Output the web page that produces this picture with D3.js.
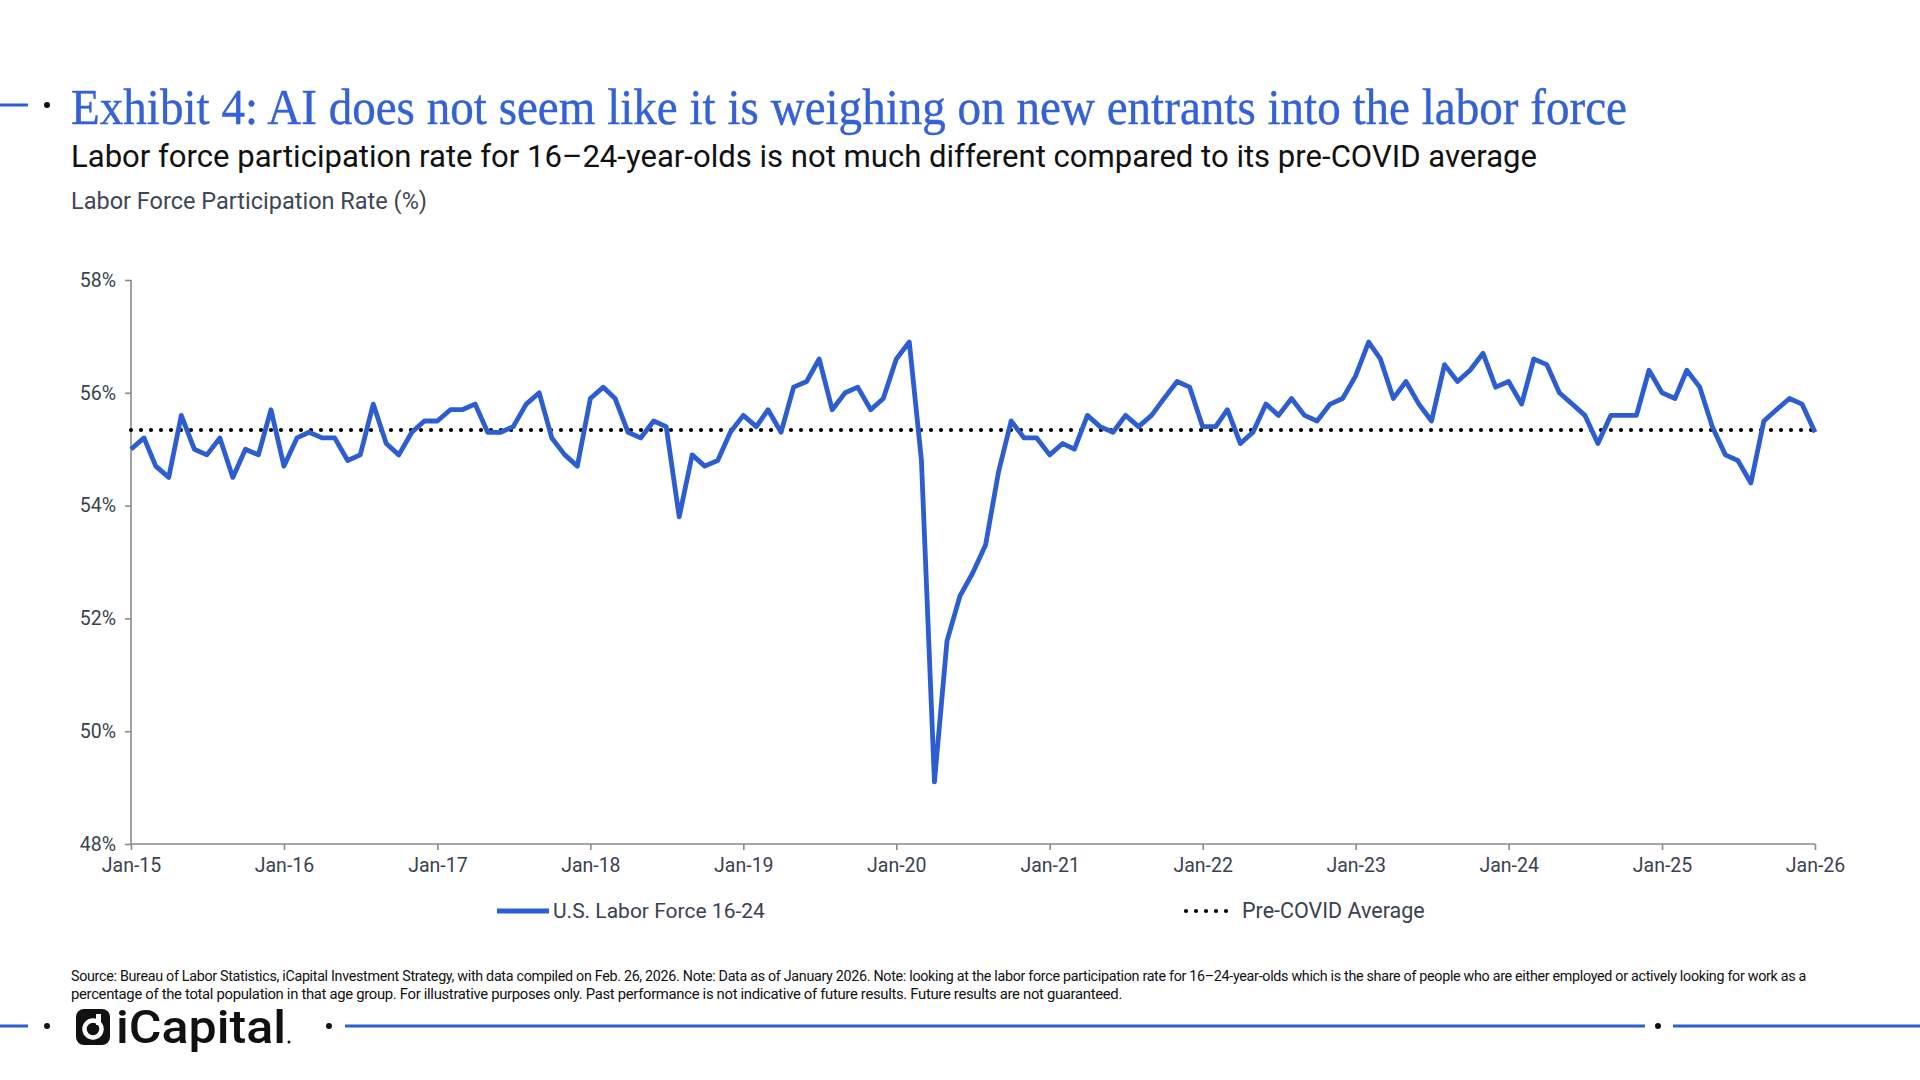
<!DOCTYPE html>
<html>
<head>
<meta charset="utf-8">
<script src="https://cdn.jsdelivr.net/npm/d3@7"></script>
<style>
  body { margin: 0; background: #fff; }
  svg { display: block; font-family: Roboto, "Open Sans", sans-serif; }
  .axis path, .axis line { stroke: #8a8a8a; stroke-width: 1.6; }
  .axis text { font-size: 19.5px; fill: #3a4250; font-family: Roboto, sans-serif; }
</style>
</head>
<body>
<svg width="1920" height="1080"></svg>
<script>
// monthly labor force participation rate, 16-24 (%), Jan-2015 .. Jan-2026
var lf2015 = [55.0, 55.2, 54.7, 54.5, 55.6, 55.0, 54.9, 55.2, 54.5, 55.0, 54.9, 55.7];
var lf2016 = [54.7, 55.2, 55.3, 55.2, 55.2, 54.8, 54.9, 55.8, 55.1, 54.9, 55.3, 55.5];
var lf2017 = [55.5, 55.7, 55.7, 55.8, 55.3, 55.3, 55.4, 55.8, 56.0, 55.2, 54.9, 54.7];
var lf2018 = [55.9, 56.1, 55.9, 55.3, 55.2, 55.5, 55.4, 53.8, 54.9, 54.7, 54.8, 55.3];
var lf2019 = [55.6, 55.4, 55.7, 55.3, 56.1, 56.2, 56.6, 55.7, 56.0, 56.1, 55.7, 55.9];
var lf2020 = [56.6, 56.9, 54.8, 49.1, 51.6, 52.4, 52.8, 53.3, 54.6, 55.5, 55.2, 55.2];
var lf2021 = [54.9, 55.1, 55.0, 55.6, 55.4, 55.3, 55.6, 55.4, 55.6, 55.9, 56.2, 56.1];
var lf2022 = [55.4, 55.4, 55.7, 55.1, 55.3, 55.8, 55.6, 55.9, 55.6, 55.5, 55.8, 55.9];
var lf2023 = [56.3, 56.9, 56.6, 55.9, 56.2, 55.8, 55.5, 56.5, 56.2, 56.4, 56.7, 56.1];
var lf2024 = [56.2, 55.8, 56.6, 56.5, 56.0, 55.8, 55.6, 55.1, 55.6, 55.6, 55.6, 56.4];
var lf2025 = [56.0, 55.9, 56.4, 56.1, 55.4, 54.9, 54.8, 54.4, 55.5, 55.7, 55.9, 55.8];
var lf2026 = [55.3];

var preCovidAvg = 55.34;

var yTicks = [48, 50, 52, 54, 56, 58];
var xTickLabels = ["Jan-15", "Jan-16", "Jan-17", "Jan-18", "Jan-19", "Jan-20",
                   "Jan-21", "Jan-22", "Jan-23", "Jan-24", "Jan-25", "Jan-26"];

var seriesName = "U.S. Labor Force 16-24";
var avgName = "Pre-COVID Average";

var values = [].concat(lf2015, lf2016, lf2017, lf2018, lf2019, lf2020,
                       lf2021, lf2022, lf2023, lf2024, lf2025, lf2026);
var data = values.map(function(v, i) {
  return { date: new Date(2015, i, 1), value: v };
});
var tickDates = xTickLabels.map(function(l, i) { return new Date(2015 + i, 0, 1); });

var blue = "#2c5dd1";
var svg = d3.select("svg");

// frame decorations
function deco(y, pieces) {
  pieces.forEach(function(p) {
    if (p.dot !== undefined) {
      svg.append("circle").attr("cx", p.dot).attr("cy", y).attr("r", 3).attr("fill", "#111");
    } else {
      svg.append("line").attr("x1", p.x1).attr("x2", p.x2).attr("y1", y).attr("y2", y)
        .attr("stroke", blue).attr("stroke-width", 3);
    }
  });
}
deco(105, [{x1: 0, x2: 28}, {dot: 47}]);
deco(1026, [{x1: 0, x2: 28}, {dot: 47}, {dot: 329}, {x1: 345, x2: 1645}, {dot: 1658}, {x1: 1673, x2: 1920}]);

// titles
svg.append("text")
  .attr("x", 71).attr("y", 124)
  .attr("font-family", "'Liberation Serif', 'DejaVu Serif', serif")
  .attr("font-size", 51)
  .attr("fill", "#3462d6")
  .attr("stroke", "#3462d6")
  .attr("stroke-width", 0.4)
  .attr("textLength", 1556)
  .attr("lengthAdjust", "spacingAndGlyphs")
  .text("Exhibit 4: AI does not seem like it is weighing on new entrants into the labor force");

svg.append("text")
  .attr("x", 71).attr("y", 167)
  .attr("font-size", 32)
  .attr("fill", "#111")
  .attr("textLength", 1466)
  .attr("lengthAdjust", "spacingAndGlyphs")
  .text("Labor force participation rate for 16\u201324-year-olds is not much different compared to its pre-COVID average");

svg.append("text")
  .attr("x", 71).attr("y", 209)
  .attr("font-size", 23.5)
  .attr("fill", "#3e4656")
  .text("Labor Force Participation Rate (%)");

// scales
var x = d3.scaleTime()
  .domain([tickDates[0], tickDates[tickDates.length - 1]])
  .range([131, 1815]);
var y = d3.scaleLinear()
  .domain([48, 58])
  .range([844, 280]);

svg.append("g")
  .attr("class", "axis y-axis")
  .attr("transform", "translate(131,0)")
  .call(d3.axisLeft(y).tickValues(yTicks).tickSize(6).tickPadding(9)
    .tickFormat(function(d) { return d + "%"; }));

svg.append("g")
  .attr("class", "axis x-axis")
  .attr("transform", "translate(0,844)")
  .call(d3.axisBottom(x).tickValues(tickDates).tickSize(6).tickPadding(8)
    .tickFormat(function(d, i) { return xTickLabels[i]; }));

// plain domain lines, no end caps
svg.select(".y-axis .domain").attr("d", "M0," + y(58) + "V" + y(48));
svg.select(".x-axis .domain").attr("d", "M" + x(tickDates[0]) + ",0H" + x(tickDates[tickDates.length - 1]));

// pre-covid average
svg.append("line")
  .attr("x1", x(tickDates[0])).attr("x2", x(tickDates[tickDates.length - 1]))
  .attr("y1", y(preCovidAvg)).attr("y2", y(preCovidAvg))
  .attr("stroke", "#000")
  .attr("stroke-width", 4.2)
  .attr("stroke-linecap", "round")
  .attr("stroke-dasharray", "0 10");

// series line
var line = d3.line()
  .x(function(d) { return x(d.date); })
  .y(function(d) { return y(d.value); });

svg.append("path")
  .datum(data)
  .attr("d", line)
  .attr("fill", "none")
  .attr("stroke", blue)
  .attr("stroke-width", 4.8)
  .attr("stroke-linejoin", "round");

// legend
var legend = svg.append("g").attr("transform", "translate(0,911)");
legend.append("line").attr("x1", 497).attr("x2", 549).attr("y1", 0).attr("y2", 0)
  .attr("stroke", blue).attr("stroke-width", 4.8);
legend.append("text").attr("x", 553).attr("y", 7).attr("font-size", 21).attr("fill", "#3a4250")
  .text(seriesName);
legend.append("line").attr("x1", 1186).attr("x2", 1228).attr("y1", 0).attr("y2", 0)
  .attr("stroke", "#000").attr("stroke-width", 4.2).attr("stroke-linecap", "round")
  .attr("stroke-dasharray", "0 10");
legend.append("text").attr("x", 1242).attr("y", 7).attr("font-size", 21.5).attr("fill", "#3a4250")
  .text(avgName);

// source note
var notes = [
  {t: "Source: Bureau of Labor Statistics, iCapital Investment Strategy, with data compiled on Feb. 26, 2026. Note: Data as of January 2026. Note: looking at the labor force participation rate for 16\u201324-year-olds which is the share of people who are either employed or actively looking for work as a", w: 1735},
  {t: "percentage of the total population in that age group. For illustrative purposes only. Past performance is not indicative of future results. Future results are not guaranteed.", w: 1051}
];
svg.selectAll(".note")
  .data(notes)
  .enter()
  .append("text")
  .attr("class", "note")
  .attr("x", 71)
  .attr("y", function(d, i) { return 981 + i * 18; })
  .attr("font-size", 14)
  .attr("letter-spacing", -0.3)
  .attr("fill", "#111")
  .attr("textLength", function(d) { return d.w; })
  .attr("lengthAdjust", "spacingAndGlyphs")
  .text(function(d) { return d.t; });

// logo
var logo = svg.append("g").attr("transform", "translate(76,1009)");
logo.append("rect").attr("width", 34).attr("height", 36).attr("rx", 8).attr("fill", "#111");
logo.append("circle").attr("cx", 17).attr("cy", 20).attr("r", 8.5)
  .attr("fill", "none").attr("stroke", "#fff").attr("stroke-width", 4.5);
logo.append("rect").attr("x", 20).attr("y", 5).attr("width", 5).attr("height", 11).attr("fill", "#fff");
logo.append("text").attr("x", 40).attr("y", 34)
  .attr("font-size", 46).attr("font-weight", 500).attr("fill", "#111")
  .attr("textLength", 170).attr("lengthAdjust", "spacingAndGlyphs")
  .text("iCapital");
logo.append("circle").attr("cx", 213).attr("cy", 33).attr("r", 1.5).attr("fill", "#111");
</script>
</body>
</html>
